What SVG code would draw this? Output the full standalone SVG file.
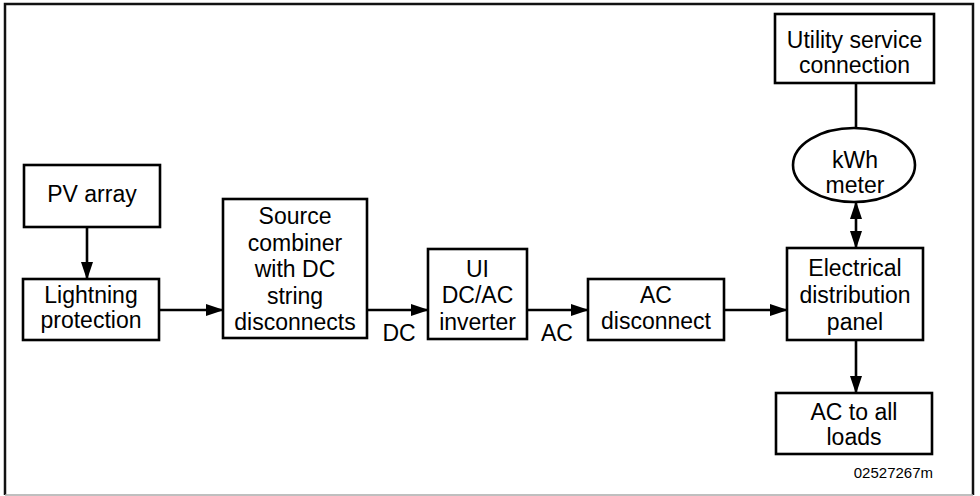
<svg xmlns="http://www.w3.org/2000/svg" width="980" height="496" viewBox="0 0 980 496">
<defs>
<marker id="arr" markerUnits="userSpaceOnUse" markerWidth="18" markerHeight="14" refX="17" refY="6" orient="auto-start-reverse">
<path d="M0,0 L18,6 L0,12 z" fill="#000"/>
</marker>
</defs>
<style>
.box{fill:#fff;stroke:#000;stroke-width:2.6}
.t{font-family:"Liberation Sans",Arial,sans-serif;font-size:23px;fill:#000;text-anchor:middle}
.c{stroke:#000;stroke-width:2.6;fill:none}
.code{font-family:"Liberation Sans",Arial,sans-serif;font-size:15px;fill:#000;text-anchor:end}
</style>
<rect x="0" y="0" width="980" height="496" fill="#fff"/>
<path d="M5,495 L5,4 L973,4 L973,495" fill="none" stroke="#111" stroke-width="2.5"/>
<line x1="5" y1="495" x2="973" y2="495" stroke="#aaa" stroke-width="1.5"/>

<g id="connectors">
<line class="c" x1="87" y1="227" x2="87" y2="279" marker-end="url(#arr)"/>
<line class="c" x1="159" y1="310" x2="223" y2="310" marker-end="url(#arr)"/>
<line class="c" x1="367" y1="310" x2="428" y2="310" marker-end="url(#arr)"/>
<line class="c" x1="527" y1="310" x2="588" y2="310" marker-end="url(#arr)"/>
<line class="c" x1="724" y1="310" x2="787" y2="310" marker-end="url(#arr)"/>
<line class="c" x1="856" y1="340" x2="856" y2="393" marker-end="url(#arr)"/>
<line class="c" x1="856" y1="83" x2="856" y2="128"/>
<line class="c" x1="856" y1="202" x2="856" y2="248" marker-start="url(#arr)" marker-end="url(#arr)"/>
<text class="t" x="399" y="341">DC</text>
<text class="t" x="557" y="341">AC</text>
</g>

<g id="pv">
<rect class="box" x="24" y="165" width="136" height="62"/>
<text class="t" x="92" y="202">PV array</text>
</g>
<g id="lightning">
<rect class="box" x="23" y="279" width="136" height="61"/>
<text class="t" x="91" y="303">Lightning</text>
<text class="t" x="91" y="328">protection</text>
</g>
<g id="combiner">
<rect class="box" x="223" y="199" width="144" height="139"/>
<text class="t" x="295" y="224">Source</text>
<text class="t" x="295" y="250.5">combiner</text>
<text class="t" x="295" y="277">with DC</text>
<text class="t" x="295" y="303.5">string</text>
<text class="t" x="295" y="330">disconnects</text>
</g>
<g id="inverter">
<rect class="box" x="428" y="249" width="99" height="90"/>
<text class="t" x="477.5" y="277">UI</text>
<text class="t" x="477.5" y="303">DC/AC</text>
<text class="t" x="477.5" y="330">inverter</text>
</g>
<g id="acdisconnect">
<rect class="box" x="588" y="279" width="136" height="61"/>
<text class="t" x="656" y="303">AC</text>
<text class="t" x="656" y="329">disconnect</text>
</g>
<g id="panel">
<rect class="box" x="787" y="248" width="136" height="92"/>
<text class="t" x="855" y="276">Electrical</text>
<text class="t" x="855" y="303">distribution</text>
<text class="t" x="855" y="330">panel</text>
</g>
<g id="loads">
<rect class="box" x="776" y="393" width="156" height="61"/>
<text class="t" x="854" y="420">AC to all</text>
<text class="t" x="854" y="445">loads</text>
</g>
<g id="utility">
<rect class="box" x="775" y="14" width="159" height="69"/>
<text class="t" x="854.5" y="48">Utility service</text>
<text class="t" x="854.5" y="73">connection</text>
</g>
<g id="meter">
<ellipse class="box" cx="854" cy="165" rx="61" ry="37"/>
<text class="t" x="855" y="168">kWh</text>
<text class="t" x="855" y="193">meter</text>
</g>
<text class="code" x="933" y="478">02527267m</text>
</svg>
